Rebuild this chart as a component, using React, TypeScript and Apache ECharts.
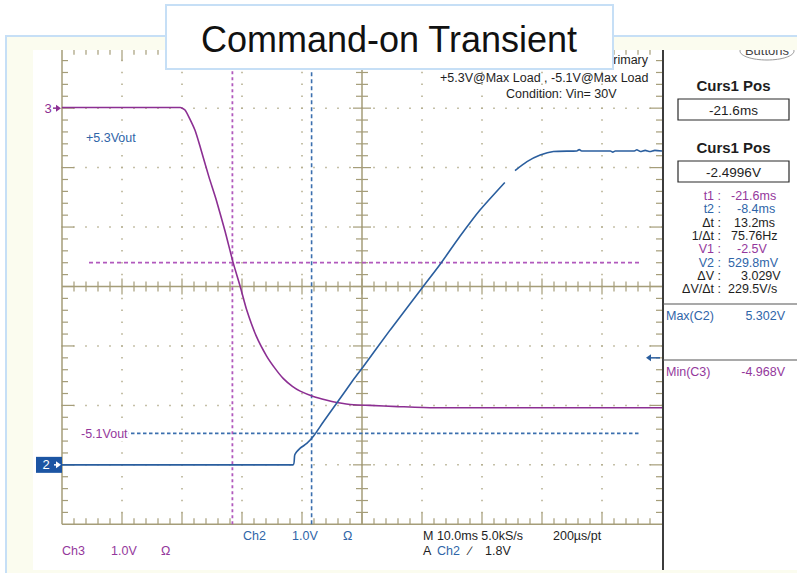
import React, { useEffect, useRef } from "react";
import * as echarts from "echarts";

const W = 797;
const H = 573;

// Time base: 10 ms/div over 10 divisions, trigger point in the middle
const TIME_MIN = -50;
const TIME_MAX = 50;
const TIME_STEP = 10;
// Graticule height in divisions (both channels at 1.0 V/div)
const DIV_MIN = -4;
const DIV_MAX = 4;
const DIV_STEP = 1;
const MINOR_PER_DIV = 5;

// Ch3: the -5.1 V output (ms, V)
const CH3_ZERO_DIV = 2.9;
const CH3_MARKER_DIV = 3;
const ch3Time = [-50, -30.3, -29.5, -28.7, -27.8, -27.0, -25.5, -24.3, -22.8, -21.5, -20.3, -19.2, -17.6, -15.9, -14.4, -13.1, -11.6, -10.3, -8.1, -6.0, -4.2, -1.4, 1.3, 6.0, 12.0, 50];
const ch3Volts = [0.11, 0.11, 0.07, -0.08, -0.28, -0.54, -1.06, -1.44, -1.98, -2.49, -2.9, -3.3, -3.74, -4.07, -4.29, -4.45, -4.58, -4.66, -4.75, -4.81, -4.85, -4.89, -4.9, -4.92, -4.94, -4.94];

// Ch2: the +5.3 V output (ms, V); null marks the break in the trace
const CH2_ZERO_DIV = -3;
const ch2Time = [-50, -11.5, -11.2, -10.3, -9.2, -8.1, -6.4, -4.2, -1.45, 0.2, 4.7, 10.2, 13.0, 16.3, 19.7, 23.8, 24.6, 25.5, 27.5, 29.7, 31.9, 35.8, 36.2, 36.6, 41.4, 41.8, 42.2, 45.4, 45.8, 46.4, 47.2, 48.0, 48.8, 50];
const ch2Volts = [0, 0, 0.17, 0.28, 0.36, 0.48, 0.73, 1.04, 1.43, 1.65, 2.27, 3.0, 3.37, 3.84, 4.29, 4.75, null, 4.95, 5.1, 5.21, 5.27, 5.28, 5.302, 5.28, 5.28, 5.26, 5.28, 5.28, 5.3, 5.27, 5.29, 5.27, 5.29, 5.28];

// Cursors and trigger
const CURSOR_T1 = -21.6;
const CURSOR_T2 = -8.4;
const CURSOR_V1 = -2.5; // on Ch3
const CURSOR_V2 = 0.5298; // on Ch2
const H_CURSOR_FROM = -45.5;
const H_CURSOR_TO = 46.3;
const TRIGGER_LEVEL = 1.8; // on Ch2

// Measurement panel
const readoutLabels = ["t1 :", "t2 :", "\u0394t :", "1/\u0394t :", "V1 :", "V2 :", "\u0394V :", "\u0394V/\u0394t :"];
const readoutValues = ["-21.6ms", "-8.4ms", "13.2ms", "75.76Hz", "-2.5V", "529.8mV", "3.029V", "229.5V/s"];
const readoutKind = ["c3", "c2", "k", "k", "c3", "c2", "k", "k"];
const readoutValueLeft = [731, 737, 734, 731, 737, 728, 741, 728];

const PURPLE = "#8c2f93";
const PURPLE_TXT = "#94389c";
const PURPLE_CUR = "#b159bd";
const BLUE = "#2a5e9e";
const BLUE_TXT = "#2f65a8";
const BLUE_CUR = "#3b6fae";
const GRAT = "#a59d79";
const DOT = "#b3ac8c";
const INK = "#1e1e1e";
const PALE = "#fbfcef";
const FRAME = "#c6dff6";
const FONT = '12.5px "Liberation Sans", Arial, sans-serif';

function renderGraticule(_params: any, api: any) {
  const pt = (t: number, d: number) => api.coord([t, d]);
  const [left, bottom] = pt(TIME_MIN, DIV_MIN);
  const [right, top] = pt(TIME_MAX, DIV_MAX);
  const [cx, cy] = pt(0, 0);
  const nx = ((TIME_MAX - TIME_MIN) / TIME_STEP) * MINOR_PER_DIV;
  const ny = ((DIV_MAX - DIV_MIN) / DIV_STEP) * MINOR_PER_DIV;
  const minorX = (right - left) / nx;
  const minorY = (bottom - top) / ny;
  const kids: any[] = [];
  const seg = (x1: number, y1: number, x2: number, y2: number, stroke: string, lineWidth: number, lineDash?: number[]) =>
    kids.push({ type: "line", shape: { x1, y1, x2, y2 }, style: { stroke, lineWidth, lineDash, fill: null } });

  for (let t = TIME_MIN + TIME_STEP; t < TIME_MAX; t += TIME_STEP) {
    if (t === 0) continue;
    const x = pt(t, 0)[0];
    seg(x, top - 0.75, x, bottom + 0.75, DOT, 1.5, [1.5, minorY - 1.5]);
  }
  for (let d = DIV_MIN + DIV_STEP; d < DIV_MAX; d += DIV_STEP) {
    if (d === 0) continue;
    const y = pt(0, d)[1];
    seg(left - 0.75, y, right + 0.75, y, DOT, 1.5, [1.5, minorX - 1.5]);
  }
  seg(left, top, left, bottom, GRAT, 1.5);
  seg(left, bottom, right, bottom, GRAT, 1.5);
  seg(left, cy, right, cy, GRAT, 1.5);
  seg(cx, top, cx, bottom, GRAT, 1.5);
  for (let i = 1; i < nx; i++) {
    const x = left + i * minorX;
    const major = i % MINOR_PER_DIV === 0;
    seg(x, bottom, x, bottom - (major ? 12 : 6), GRAT, 1.2);
    seg(x, top, x, top + (major ? 12 : 6), GRAT, 1.2);
    seg(x, cy - (major ? 8 : 5), x, cy + (major ? 8 : 5), GRAT, 1.2);
  }
  for (let j = 1; j < ny; j++) {
    const y = top + j * minorY;
    const major = j % MINOR_PER_DIV === 0;
    seg(left, y, left + (major ? 12 : 6), y, GRAT, 1.2);
    seg(right, y, right - (major ? 12 : 6), y, GRAT, 1.2);
    seg(cx - (major ? 9 : 6), y, cx + (major ? 9 : 6), y, GRAT, 1.2);
  }
  return { type: "group", children: kids };
}

function arrowRight(x0: number, x1: number, y: number, color: string) {
  return [
    { type: "line", shape: { x1: x0, y1: y, x2: x1 - 3, y2: y }, style: { stroke: color, lineWidth: 1.5 } },
    { type: "polygon", shape: { points: [[x1, y], [x1 - 5, y - 3.5], [x1 - 5, y + 3.5]] }, style: { fill: color } },
  ];
}

function arrowLeft(x0: number, x1: number, y: number, color: string) {
  return [
    { type: "line", shape: { x1: x0 + 3, y1: y, x2: x1, y2: y }, style: { stroke: color, lineWidth: 1.5 } },
    { type: "polygon", shape: { points: [[x0, y], [x0 + 5, y - 3.5], [x0 + 5, y + 3.5]] }, style: { fill: color } },
  ];
}

function renderMarkers(_params: any, api: any) {
  const pt = (t: number, d: number) => api.coord([t, d]);
  const left = pt(TIME_MIN, 0)[0];
  const right = pt(TIME_MAX, 0)[0];
  const y3 = pt(0, CH3_MARKER_DIV)[1];
  const y2 = pt(0, CH2_ZERO_DIV)[1];
  const yt = pt(0, CH2_ZERO_DIV + TRIGGER_LEVEL)[1];
  const kids: any[] = [
    {
      type: "text",
      style: { text: "3", x: left - 14, y: y3, fill: PURPLE, font: '13px "Liberation Sans", Arial, sans-serif', textAlign: "center", textVerticalAlign: "middle", align: "center", verticalAlign: "middle" },
    },
    ...arrowRight(left - 9, left - 1, y3, PURPLE),
    { type: "rect", shape: { x: left - 26, y: y2 - 8, width: 26, height: 16 }, style: { fill: "#1c55a3" } },
    {
      type: "text",
      style: { text: "2", x: left - 16, y: y2, fill: "#ffffff", font: '13px "Liberation Sans", Arial, sans-serif', textAlign: "center", textVerticalAlign: "middle", align: "center", verticalAlign: "middle" },
    },
    ...arrowRight(left - 8, left - 1, y2, "#ffffff"),
    ...arrowLeft(right - 16, right - 2, yt, BLUE),
  ];
  return { type: "group", children: kids };
}

function txt(text: string, x: number, y: number, fill: string, align = "left", font = FONT, extra: any = {}) {
  return {
    type: "text",
    z: 20,
    silent: true,
    style: { text, x, y, fill, font, textAlign: align, textVerticalAlign: "middle", align, verticalAlign: "middle", ...extra },
  };
}

function buildGraphic() {
  const els: any[] = [];
  // frame and screen backgrounds
  els.push({ type: "rect", z: 0, silent: true, shape: { x: 6, y: 36, width: 800, height: 545 }, style: { fill: PALE, stroke: FRAME, lineWidth: 2 } });
  els.push({ type: "rect", z: 1, silent: true, shape: { x: 33, y: 50, width: 764, height: 520 }, style: { fill: "#ffffff" } });

  // scope annotations
  els.push(txt("Primary", 648, 60, INK, "right"));
  els.push(txt("+5.3V@Max Load , -5.1V@Max Load", 440, 78, INK));
  els.push(txt("Condition: Vin= 30V", 506, 94, INK));
  els.push(txt("+5.3Vout", 86, 138, BLUE_TXT));
  els.push(txt("-5.1Vout", 80, 434, PURPLE_TXT, "left", FONT, { backgroundColor: "#ffffff", padding: [1, 1, 1, 1] }));

  // bottom status lines
  els.push(txt("Ch2", 243, 536, BLUE_TXT));
  els.push(txt("1.0V", 292, 536, BLUE_TXT));
  els.push(txt("\u03A9", 343, 536, BLUE_TXT));
  els.push(txt("M 10.0ms 5.0kS/s", 423, 536, INK));
  els.push(txt("200\u00B5s/pt", 553, 536, INK));
  els.push(txt("Ch3", 62, 551, PURPLE_TXT));
  els.push(txt("1.0V", 111, 551, PURPLE_TXT));
  els.push(txt("\u03A9", 161, 551, PURPLE_TXT));
  els.push(txt("A", 423, 551, INK));
  els.push(txt("Ch2", 437, 551, BLUE_TXT));
  els.push(txt("\u2215", 469, 551, INK));
  els.push(txt("1.8V", 485, 551, INK));

  // side panel
  els.push({ type: "line", z: 15, silent: true, shape: { x1: 663, y1: 50, x2: 663, y2: 570 }, style: { stroke: "#3c3c3c", lineWidth: 2 } });
  els.push({ type: "ellipse", z: 5, silent: true, shape: { cx: 767, cy: 51, rx: 27, ry: 9 }, style: { fill: "#ffffff", stroke: "#9a9a9a", lineWidth: 1 } });
  els.push({ ...txt("Buttons", 767, 50, "#444444", "center", '13px "Liberation Sans", Arial, sans-serif'), z: 6 });
  const boldFont = 'bold 15px "Liberation Sans", Arial, sans-serif';
  const boxFont = '13.5px "Liberation Sans", Arial, sans-serif';
  els.push(txt("Curs1 Pos", 733.5, 85, INK, "center", boldFont));
  els.push({ type: "rect", z: 19, silent: true, shape: { x: 678, y: 99, width: 111, height: 21 }, style: { fill: "#ffffff", stroke: "#2a2a2a", lineWidth: 1.2 } });
  els.push(txt("-21.6ms", 733.5, 110, INK, "center", boxFont));
  els.push(txt("Curs1 Pos", 733.5, 147, INK, "center", boldFont));
  els.push({ type: "rect", z: 19, silent: true, shape: { x: 678, y: 161, width: 111, height: 21 }, style: { fill: "#ffffff", stroke: "#2a2a2a", lineWidth: 1.2 } });
  els.push(txt("-2.4996V", 733.5, 172, INK, "center", boxFont));

  readoutLabels.forEach((label, i) => {
    const color = readoutKind[i] === "c3" ? PURPLE_TXT : readoutKind[i] === "c2" ? BLUE_TXT : INK;
    const y = 196 + i * 13.3;
    els.push(txt(label, 721, y, color, "right"));
    els.push(txt(readoutValues[i], readoutValueLeft[i], y, color, "left"));
  });

  els.push({ type: "line", z: 15, silent: true, shape: { x1: 663, y1: 304, x2: 797, y2: 304 }, style: { stroke: "#555555", lineWidth: 1.2 } });
  els.push(txt("Max(C2)", 666, 316, BLUE_TXT));
  els.push(txt("5.302V", 785, 316, BLUE_TXT, "right"));
  els.push({ type: "line", z: 15, silent: true, shape: { x1: 663, y1: 360, x2: 797, y2: 360 }, style: { stroke: "#555555", lineWidth: 1.2 } });
  els.push(txt("Min(C3)", 666, 372, PURPLE_TXT));
  els.push(txt("-4.968V", 785, 372, PURPLE_TXT, "right"));

  // screen edge: anything above the captured screen is hidden
  els.push({ type: "rect", z: 30, silent: true, shape: { x: 7, y: 37, width: 790, height: 13 }, style: { fill: PALE } });
  els.push({ type: "rect", z: 30, silent: true, shape: { x: 7, y: 570, width: 790, height: 3 }, style: { fill: PALE } });

  // title box
  els.push({ type: "rect", z: 40, silent: true, shape: { x: 166, y: 5, width: 447, height: 64 }, style: { fill: "#ffffff", stroke: FRAME, lineWidth: 2 } });
  els.push({ ...txt("Command-on Transient", 389, 39, "#111111", "center", '36px "Liberation Sans", Arial, sans-serif'), z: 41 });
  return els;
}

function buildOption() {
  const ch3Data = ch3Time.map((t, i) => [t, ch3Volts[i] + CH3_ZERO_DIV]);
  const ch2Data = ch2Time.map((t, i) => [t, ch2Volts[i] === null ? "-" : (ch2Volts[i] as number) + CH2_ZERO_DIV]);
  const y1 = CH3_ZERO_DIV + CURSOR_V1;
  const y2 = CH2_ZERO_DIV + CURSOR_V2;
  const cursor = (data: number[][], color: string, dash: number[], width: number) => ({
    type: "line",
    data,
    symbol: "none",
    silent: true,
    z: 3,
    lineStyle: { color, width, type: dash },
  });
  return {
    animation: false,
    backgroundColor: "#ffffff",
    grid: { left: 62, top: 48.7, width: 600, height: 475.6, containLabel: false },
    xAxis: { type: "value", min: TIME_MIN, max: TIME_MAX, interval: TIME_STEP, show: false },
    yAxis: { type: "value", min: DIV_MIN, max: DIV_MAX, interval: DIV_STEP, show: false },
    graphic: { elements: buildGraphic() },
    series: [
      { type: "custom", renderItem: renderGraticule, data: [[0, 0]], silent: true, z: 2, clip: false },
      cursor([[CURSOR_T1, DIV_MIN], [CURSOR_T1, DIV_MAX]], PURPLE_CUR, [3, 3], 1.8),
      cursor([[CURSOR_T2, DIV_MIN], [CURSOR_T2, DIV_MAX]], BLUE_CUR, [4, 3], 1.6),
      cursor([[H_CURSOR_FROM, y1], [H_CURSOR_TO, y1]], PURPLE_CUR, [4, 3], 1.8),
      cursor([[H_CURSOR_FROM, y2], [H_CURSOR_TO, y2]], BLUE_CUR, [3.5, 2.5], 1.6),
      {
        type: "line",
        data: ch3Data,
        symbol: "none",
        silent: true,
        smooth: 0.2,
        z: 4,
        lineStyle: { color: PURPLE, width: 1.6 },
      },
      {
        type: "line",
        data: ch2Data,
        symbol: "none",
        silent: true,
        smooth: 0.2,
        connectNulls: false,
        z: 4,
        lineStyle: { color: BLUE, width: 1.6 },
      },
      { type: "custom", renderItem: renderMarkers, data: [[0, 0]], silent: true, z: 5, clip: false },
    ],
  };
}

export default function App() {
  const ref = useRef<HTMLDivElement>(null);
  useEffect(() => {
    if (!ref.current) return;
    const chart = echarts.init(ref.current, null, { renderer: "svg" });
    chart.setOption(buildOption() as any);
    return () => chart.dispose();
  }, []);
  return <div ref={ref} style={{ position: "fixed", left: 0, top: 0, width: W, height: H }} />;
}
